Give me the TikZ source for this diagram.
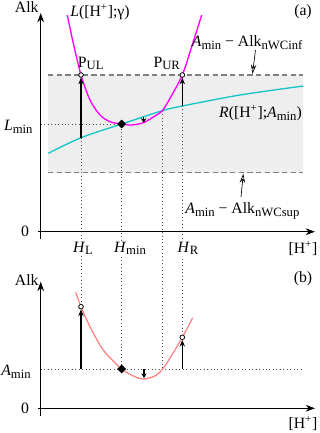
\documentclass[tikz,border=0pt]{standalone}
\usepackage{fontspec}
\setmainfont{Liberation Serif}
\usetikzlibrary{arrows.meta,shapes.geometric}
\definecolor{magc}{HTML}{FF00FF}
\definecolor{cyanc}{HTML}{18C6C8}
\definecolor{salm}{HTML}{FF7F7F}
\definecolor{bandc}{HTML}{EEEEEE}
\definecolor{dashc}{HTML}{7F7F7F}
\newcommand{\Hp}{[H\textsuperscript{+}]}
\newcommand{\sbs}[1]{\raisebox{-0.35ex}{\fontsize{9.5}{10}\selectfont #1}}
\tikzset{
  every node/.style={font=\fontsize{11.8}{13}\selectfont,inner sep=1pt},
  ax/.style={-{Stealth[length=7pt,width=5pt]},line width=0.6pt},
  vec/.style={-{Stealth[length=5pt,width=4pt]},line width=1pt},
  sm/.style={-{Stealth[length=3.5pt,width=4pt]},line width=0.9pt},
  dt/.style={dotted,line width=0.6pt,black!70},
  bd/.style={dash pattern=on 4pt off 2.5pt,line width=0.8pt,dashc},
  ptr/.style={-{Stealth[open,length=7pt,width=4pt]},line width=0.5pt},
  pt/.style={circle,draw,fill=white,inner sep=0pt,minimum size=3.4pt,line width=0.5pt},
  dm/.style={diamond,fill,inner sep=0pt,minimum size=6.5pt},
  hl/.style={fill=white}
}
\begin{document}
\begin{tikzpicture}[x=0.75pt,y=-0.75pt]
\useasboundingbox (0,0) rectangle (320,433);
\fill[bandc] (48,75) rectangle (303,172.7);
\draw[bd] (48,75) -- (303,75);
\draw[bd] (48,172.7) -- (303,172.7);
\coordinate (rl) at (81,137.7);
\coordinate (rm) at (121.7,124);
\coordinate (rx) at (162.3,110.7);
\coordinate (rr) at (182.3,106);
\coordinate (ra) at (143.7,116.6);
\coordinate (la) at (143.7,122.9);
\coordinate (bl) at (81,369);
\coordinate (bx) at (162.3,369);
\coordinate (br) at (182.3,369);
\coordinate (ba) at (144,369);
\coordinate (bm) at (144,378);
\coordinate (ly) at (40.7,124);
\coordinate (ay) at (40.7,369);
\coordinate (ae) at (303,369);
\node[pt] (pul) at (81,75) {};
\node[pt] (pur) at (182.3,75) {};
\node[pt] (ql) at (81,306.7) {};
\node[pt] (qr) at (182.3,337.3) {};
\node[dm] (dma) at (121.7,124) {};
\node[dm] (dmb) at (121.7,369) {};
\draw[dt] (rl) -- (ql);
\draw[dt] (dma) -- (dmb);
\draw[dt] (rx) -- (bx);
\draw[dt] (rr) -- (qr);
\draw[dt] (ly) -- (dma);
\draw[dt] (ay) -- (ae);
\draw[ax] (38,231.7) -- (315,231.7);
\draw[ax] (40.7,239) -- (40.7,13);
\draw[ax] (38,408.3) -- (315,408.3);
\draw[ax] (40.7,416) -- (40.7,281.7);
\draw[cyanc,line width=1pt] plot[smooth] coordinates {(48.3,153.3) (81,137.7) (121.7,124) (162.3,110.7) (182.3,106) (240,95) (303.3,86)};
\draw[magc,line width=1pt] plot[smooth] coordinates {(67.3,15) (73.3,43.3) (81,75) (90,100) (100,115) (110,121.7) (121.7,124) (131.7,125) (143.3,122.7) (153.3,117) (162.3,110.7) (170,98.3) (182.3,75) (191.7,46.7) (201.7,15)};
\draw[salm,line width=0.9pt] plot[smooth] coordinates {(75.7,292.3) (81,306.7) (90,326.7) (103.3,350) (121.7,369) (135,376.7) (144,379) (156.7,375) (166.7,363.3) (182.3,337.3) (192.7,317.7)};
\node[dm] at (dma) {};
\node[dm] at (dmb) {};
\draw[vec] (rl) -- (pul);
\draw[vec] (rr) -- (pur);
\draw[vec] (bl) -- (ql);
\draw[vec] (br) -- (qr);
\draw[sm] (ra) -- (la);
\draw[sm] (ba) -- (bm);
\node[pt] at (pul) {};
\node[pt] at (pur) {};
\node[pt] at (ql) {};
\node[pt] at (qr) {};
\node (alka) at (26.7,7.3) {Alk};
\node (alkb) at (26.7,280) {Alk};
\node (tga) at (303,12) {(a)};
\node (tgb) at (303,278.3) {(b)};
\node (lcur) at (100,12) {\textit{L}(\Hp;γ)};
\node (rcur) at (260.5,113.3) {\textit{R}(\Hp;\textit{A}\sbs{min})};
\node[anchor=east] (ainf) at (304,42.7) {\textit{A}\sbs{min} − Alk\sbs{nWCinf}};
\node[anchor=east] (asup) at (301,210.7) {\textit{A}\sbs{min} − Alk\sbs{nWCsup}};
\coordinate (tinf) at (255.5,50);
\coordinate (hinf) at (252.5,74);
\coordinate (tsup) at (241,197);
\coordinate (hsup) at (243.3,173.5);
\draw[ptr] (tinf) -- (hinf);
\draw[ptr] (tsup) -- (hsup);
\node (lpul) at (90.7,63.3) {P\sbs{UL}};
\node (lpur) at (166.7,63.3) {P\sbs{UR}};
\node (lmin) at (18.3,126.7) {\textit{L}\sbs{min}};
\node (amin) at (16,372) {\textit{A}\sbs{min}};
\node (za) at (25,231.7) {0};
\node (zb) at (25,408.3) {0};
\node[hl] (hL) at (83,248.3) {\textit{H}\sbs{L}};
\node[hl] (hM) at (130,248.3) {\textit{H}\sbs{min}};
\node[hl] (hR) at (188,248.3) {\textit{H}\sbs{R}};
\node (xa) at (303,248.3) {\Hp};
\node (xb) at (303,423.3) {\Hp};
\end{tikzpicture}
\end{document}
